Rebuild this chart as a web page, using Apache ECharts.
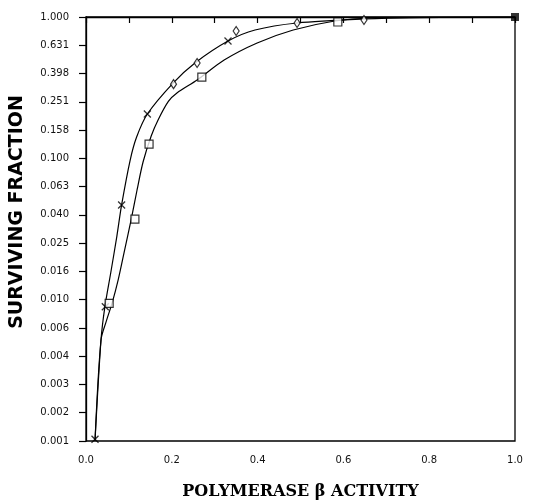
<!DOCTYPE html>
<html>
<head>
<meta charset="utf-8">
<script src="https://cdn.jsdelivr.net/npm/echarts@6/dist/echarts.min.js"></script>
<style>
  html, body { margin: 0; padding: 0; background: #fff; }
  #chart { width: 534px; height: 501px; }
</style>
</head>
<body>
<div id="chart"></div>
<script>
// measured points (x = activity, y = surviving fraction)
var crossX = [0.021, 0.045, 0.083, 0.143, 0.331];
var crossY = [0.00103, 0.0089, 0.0468, 0.206, 0.676];

var diamondX = [0.204, 0.259, 0.350, 0.492, 0.648];
var diamondY = [0.335, 0.473, 0.796, 0.907, 0.952];

var squareX = [0.054, 0.114, 0.147, 0.270, 0.587];
var squareY = [0.0094, 0.0372, 0.126, 0.376, 0.922];

var controlX = [1.0];
var controlY = [1.0];

// fitted curves
var upperCurveX = [0.021, 0.035, 0.044, 0.058, 0.072, 0.083, 0.103, 0.118, 0.143, 0.203, 0.254, 0.331, 0.394, 0.492, 0.648, 0.779, 1.0];
var upperCurveY = [0.001, 0.0052, 0.0089, 0.0157, 0.0282, 0.0468, 0.0973, 0.1416, 0.206, 0.341, 0.473, 0.676, 0.809, 0.907, 0.968, 0.990, 1.0];

var lowerCurveX = [0.021, 0.035, 0.047, 0.061, 0.075, 0.089, 0.105, 0.119, 0.133, 0.152, 0.168, 0.192, 0.212, 0.259, 0.322, 0.399, 0.483, 0.580, 0.662, 1.0];
var lowerCurveY = [0.001, 0.0052, 0.0070, 0.0095, 0.0138, 0.0217, 0.0366, 0.0597, 0.0942, 0.144, 0.187, 0.253, 0.290, 0.358, 0.496, 0.655, 0.809, 0.937, 0.984, 1.0];

// y axis is log10 of the surviving fraction
function pts(xs, ys) {
  return xs.map(function (x, i) { return [x, Math.log10(ys[i])]; });
}

var chart = echarts.init(document.getElementById('chart'));

var markerStyle = { color: '#fff', borderColor: '#000', borderWidth: 1.2 };

var option = {
  animation: false,
  grid: {
    left: 86, right: 19, top: 17, bottom: 60,
    outerBoundsMode: 'none',
    show: true, borderColor: '#000', borderWidth: 1.3
  },
  xAxis: {
    type: 'value',
    min: 0, max: 1, interval: 0.1,
    axisLine: { lineStyle: { color: '#000', width: 1.3 } },
    axisTick: { length: 6, lineStyle: { color: '#000', width: 1.2 } },
    axisLabel: {
      margin: 14, color: '#111', fontFamily: 'DejaVu Sans', fontSize: 10,
      formatter: function (v) {
        return Math.round(v * 10) % 2 === 0 ? v.toFixed(1) : '';
      }
    },
    splitLine: { show: false },
    name: 'POLYMERASE β ACTIVITY',
    nameLocation: 'middle',
    nameGap: 43,
    nameTextStyle: {
      fontFamily: 'DejaVu Serif', fontWeight: 'bold', fontSize: 16, color: '#000'
    }
  },
  yAxis: {
    type: 'value',
    min: -3, max: 0, interval: 0.2,
    axisLine: { lineStyle: { color: '#000', width: 1.3 } },
    axisTick: { length: 7, lineStyle: { color: '#000', width: 1.2 } },
    axisLabel: {
      margin: 17, color: '#111', fontFamily: 'DejaVu Sans', fontSize: 10,
      formatter: function (v) { return Math.pow(10, v).toFixed(3); }
    },
    splitLine: { show: false }
  },
  graphic: [{
    type: 'text',
    x: 17, y: 212,
    rotation: Math.PI / 2,
    style: {
      text: 'SURVIVING FRACTION',
      font: 'bold 19px "DejaVu Sans"',
      fill: '#000',
      align: 'center',
      verticalAlign: 'middle'
    }
  }],
  series: [
    {
      type: 'line', data: pts(upperCurveX, upperCurveY),
      showSymbol: false, smooth: 0.3,
      lineStyle: { color: '#000', width: 1.2 }, z: 1
    },
    {
      type: 'line', data: pts(lowerCurveX, lowerCurveY),
      showSymbol: false, smooth: 0.3,
      lineStyle: { color: '#000', width: 1.2 }, z: 1
    },
    {
      type: 'scatter', data: pts(crossX, crossY),
      symbol: 'path://M0,0L10,10M10,0L0,10', symbolSize: 7,
      itemStyle: { color: 'none', borderColor: '#000', borderWidth: 1.3 }, z: 3
    },
    {
      type: 'scatter', data: pts(diamondX, diamondY),
      symbol: 'diamond', symbolSize: [6, 9],
      itemStyle: markerStyle, z: 3
    },
    {
      type: 'scatter', data: pts(squareX, squareY),
      symbol: 'rect', symbolSize: 8,
      itemStyle: markerStyle, z: 3
    },
    {
      type: 'scatter', data: pts(controlX, controlY),
      symbol: 'rect', symbolSize: 8,
      itemStyle: { color: '#000' }, z: 4
    }
  ]
};

chart.setOption(option);
</script>
</body>
</html>
